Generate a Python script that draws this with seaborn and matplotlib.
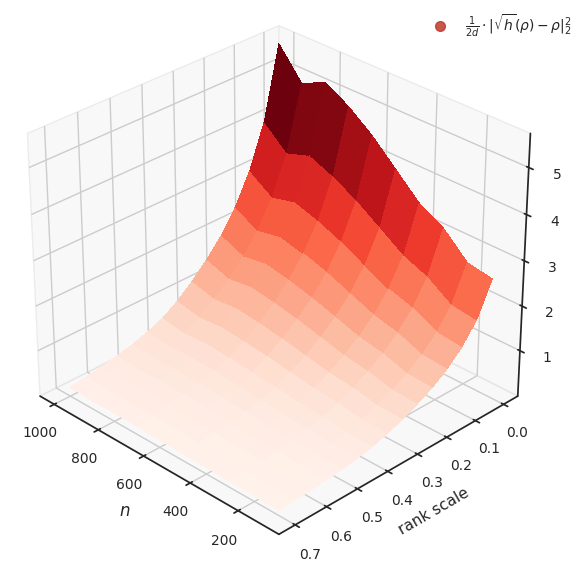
import numpy as np
import matplotlib
matplotlib.use("Agg")
import matplotlib.pyplot as plt
import seaborn as sns
from matplotlib.lines import Line2D

sns.set_theme(style="ticks")
plt.rcParams['font.family'] = ['DejaVu Sans']

n_vals = [100, 200, 300, 400, 500, 600, 700, 800, 900, 1000]
rank_vals = [0.0, 0.05, 0.1, 0.15, 0.2, 0.25, 0.3, 0.35, 0.4, 0.45, 0.5, 0.55, 0.6, 0.65, 0.7]
peak_at_rank0 = [2.6, 2.7, 3.2, 3.5, 4.0, 4.5, 4.9, 5.2, 4.95, 5.6]
decay = [1.0, 0.72, 0.55, 0.43, 0.34, 0.27, 0.21, 0.16, 0.12, 0.095, 0.075, 0.06, 0.048, 0.038, 0.03]

N, R = np.meshgrid(n_vals, rank_vals)
Z = np.outer(decay, peak_at_rank0)

fig = plt.figure(figsize=(5.84, 5.68), dpi=100)
ax = fig.add_subplot(111, projection='3d')
ax.plot_surface(N, R, Z, cmap='Reds', linewidth=0, antialiased=False, vmin=0, vmax=4.6)
ax.view_init(elev=30, azim=135)
ax.set_box_aspect((4, 4, 3.5), zoom=1.03)
ax.set_xticks([200, 400, 600, 800, 1000])
ax.set_yticks([0.0, 0.1, 0.2, 0.3, 0.4, 0.5, 0.6, 0.7])
ax.set_zticks([1, 2, 3, 4, 5])
ax.tick_params(labelsize=10)
ax.set_xlabel('$n$', fontsize=12)
ax.set_ylabel('rank scale', fontsize=11)
for a in (ax.xaxis, ax.yaxis, ax.zaxis):
    a.pane.set_facecolor((0.95, 0.95, 0.95, 1.0))
    a.pane.set_edgecolor('#dddddd')
handle = Line2D([], [], marker='o', color='#c0392b', linestyle='none', markersize=7, alpha=0.85)
fig.legend([handle], [r'$\frac{1}{2d}\cdot|\sqrt{h}(\rho)-\rho|_2^2$'], loc='upper right',
           frameon=False, fontsize=10, bbox_to_anchor=(1.0, 1.0))
plt.subplots_adjust(left=0, right=0.93, bottom=0.0, top=1.03)
fig.savefig('out.png', dpi=100)
